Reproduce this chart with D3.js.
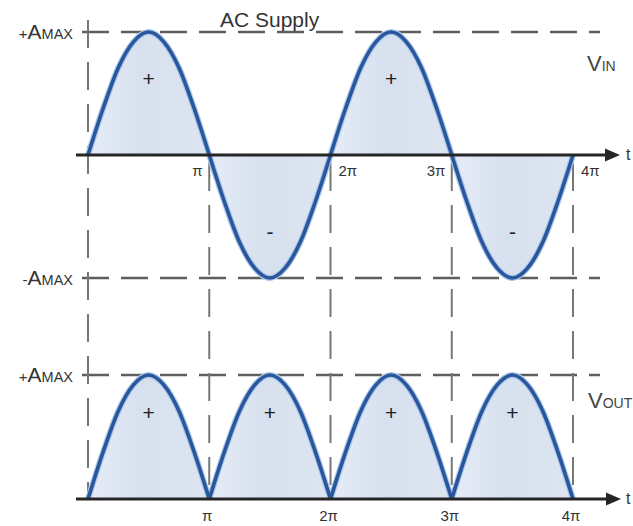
<!DOCTYPE html>
<html>
<head>
<meta charset="utf-8">
<script src="https://cdn.jsdelivr.net/npm/d3@7"></script>
<style>
  html, body { margin: 0; padding: 0; background: #fff; }
  svg { display: block; font-family: "Liberation Sans", Arial, sans-serif; }
</style>
</head>
<body>
<svg id="chart" width="633" height="526"></svg>
<script>
// Phase of the waveform, in multiples of π
const phase = [0, 0.125, 0.25, 0.375, 0.5, 0.625, 0.75, 0.875,
               1, 1.125, 1.25, 1.375, 1.5, 1.625, 1.75, 1.875,
               2, 2.125, 2.25, 2.375, 2.5, 2.625, 2.75, 2.875,
               3, 3.125, 3.25, 3.375, 3.5, 3.625, 3.75, 3.875, 4];

// AC supply voltage (input), normalised to A_MAX
const vIn = [0, 0.38, 0.71, 0.92, 1, 0.92, 0.71, 0.38,
             0, -0.38, -0.71, -0.92, -1, -0.92, -0.71, -0.38,
             0, 0.38, 0.71, 0.92, 1, 0.92, 0.71, 0.38,
             0, -0.38, -0.71, -0.92, -1, -0.92, -0.71, -0.38, 0];

// Full-wave rectified output, normalised to A_MAX
const vOut = [0, 0.38, 0.71, 0.92, 1, 0.92, 0.71, 0.38,
              0, 0.38, 0.71, 0.92, 1, 0.92, 0.71, 0.38,
              0, 0.38, 0.71, 0.92, 1, 0.92, 0.71, 0.38,
              0, 0.38, 0.71, 0.92, 1, 0.92, 0.71, 0.38, 0];

const tickValues = [1, 2, 3, 4];
const tickLabels = ["π", "2π", "3π", "4π"];

// Polarity marks placed in each half-cycle
const inSigns = [{t: 0.5, v: 0.62, s: "+"}, {t: 1.5, v: -0.63, s: "-"},
                 {t: 2.5, v: 0.62, s: "+"}, {t: 3.5, v: -0.63, s: "-"}];
const outSigns = [{t: 0.5, v: 0.69, s: "+"}, {t: 1.5, v: 0.69, s: "+"},
                  {t: 2.5, v: 0.69, s: "+"}, {t: 3.5, v: 0.69, s: "+"}];

const svg = d3.select("#chart");

const x = d3.scaleLinear().domain([0, 4]).range([88, 573]);
const yIn = d3.scaleLinear().domain([-1, 1]).range([278, 32]);
const yOut = d3.scaleLinear().domain([0, 1]).range([499, 375]);

const dashCol = "#5e5e5e";
const axisCol = "#262626";
const waveCol = "#2a569c";

// Lobe fill gradient
const defs = svg.append("defs");
const grad = defs.append("linearGradient").attr("id", "lobeFill")
  .attr("x1", "0").attr("x2", "1").attr("y1", "0").attr("y2", "0");
grad.append("stop").attr("offset", "0%").attr("stop-color", "#e6edf8");
grad.append("stop").attr("offset", "45%").attr("stop-color", "#d7e0ee");
grad.append("stop").attr("offset", "100%").attr("stop-color", "#dde5f1");

// Dashed guides
const guides = svg.append("g").attr("fill", "none");
// horizontal amplitude levels
[yIn(1), yIn(-1), yOut(1)].forEach(yy => {
  guides.append("line")
    .attr("x1", x(0) - 6).attr("x2", 600)
    .attr("y1", yy).attr("y2", yy)
    .attr("stroke", dashCol).attr("stroke-width", 2.5)
    .attr("stroke-dasharray", "27,12");
});
// vertical guides at each multiple of π
guides.append("line")
  .attr("x1", x(0)).attr("x2", x(0))
  .attr("y1", 20).attr("y2", yOut(0) - 6)
  .attr("stroke", "#777").attr("stroke-width", 2)
  .attr("stroke-dasharray", "28,14");
tickValues.forEach(t => {
  guides.append("line")
    .attr("x1", x(t)).attr("x2", x(t))
    .attr("y1", yIn(0) + 8).attr("y2", yOut(0) - 6)
    .attr("stroke", "#777").attr("stroke-width", 2)
    .attr("stroke-dasharray", "28,14");
});

// Split a series into half-cycle lobes
function lobes(values) {
  const out = [];
  for (let k = 0; k < 4; k++) {
    const seg = [];
    for (let i = k * 8; i <= k * 8 + 8; i++) seg.push({t: phase[i], v: values[i]});
    out.push(seg);
  }
  return out;
}

function drawWave(values, y) {
  const g = svg.append("g");
  const area = d3.area().x(d => x(d.t)).y0(y(0)).y1(d => y(d.v)).curve(d3.curveMonotoneX);
  const line = d3.line().x(d => x(d.t)).y(d => y(d.v)).curve(d3.curveMonotoneX);
  const segs = lobes(values);
  g.selectAll("path.fill").data(segs).join("path")
    .attr("class", "fill").attr("d", area).attr("fill", "url(#lobeFill)");
  g.selectAll("path.halo").data(segs).join("path")
    .attr("class", "halo").attr("d", line).attr("fill", "none")
    .attr("stroke", "#a8c6ea").attr("stroke-width", 6).attr("stroke-linejoin", "round");
  g.selectAll("path.wave").data(segs).join("path")
    .attr("class", "wave").attr("d", line).attr("fill", "none")
    .attr("stroke", waveCol).attr("stroke-width", 3.6).attr("stroke-linejoin", "round");
}

drawWave(vIn, yIn);
drawWave(vOut, yOut);

// Time axes with arrowheads
function timeAxis(yy, tipX) {
  const g = svg.append("g");
  g.append("line").attr("x1", 76).attr("x2", tipX - 12)
    .attr("y1", yy).attr("y2", yy)
    .attr("stroke", axisCol).attr("stroke-width", 3);
  g.append("path")
    .attr("d", `M${tipX},${yy} L${tipX - 15},${yy - 6.5} L${tipX - 15},${yy + 6.5} Z`)
    .attr("fill", axisCol);
  g.append("text").attr("x", 626).attr("y", yy + 5)
    .attr("font-size", 16).attr("fill", "#333").text("t");
}
timeAxis(yIn(0), 620);
timeAxis(yOut(0), 621);

// Tick labels: the input axis labels sit beside the crossing
const inOffsets = [-17, 8, -25, 8];
svg.append("g").selectAll("text").data(tickValues).join("text")
  .attr("x", (d, i) => x(d) + inOffsets[i])
  .attr("y", yIn(0) + 21)
  .attr("font-size", 15).attr("fill", "#333")
  .text((d, i) => tickLabels[i]);
svg.append("g").selectAll("text").data(tickValues).join("text")
  .attr("x", d => x(d) - 2)
  .attr("y", yOut(0) + 22)
  .attr("text-anchor", "middle")
  .attr("font-size", 15).attr("fill", "#333")
  .text((d, i) => tickLabels[i]);

// Polarity signs
svg.append("g").selectAll("text").data(inSigns).join("text")
  .attr("x", d => x(d.t)).attr("y", d => yIn(d.v) + 7)
  .attr("text-anchor", "middle").attr("font-size", 21).attr("fill", "#1e1e1e")
  .text(d => d.s);
svg.append("g").selectAll("text").data(outSigns).join("text")
  .attr("x", d => x(d.t)).attr("y", d => yOut(d.v) + 7)
  .attr("text-anchor", "middle").attr("font-size", 21).attr("fill", "#1e1e1e")
  .text(d => d.s);

// Amplitude labels
function ampLabel(sign, yy) {
  const t = svg.append("text").attr("x", 73).attr("y", yy + 7)
    .attr("text-anchor", "end").attr("fill", "#333");
  t.append("tspan").attr("font-size", 15).text(sign);
  t.append("tspan").attr("font-size", 21).text("A");
  t.append("tspan").attr("font-size", 14.5).text("MAX");
}
ampLabel("+", yIn(1));
ampLabel("-", yIn(-1));
ampLabel("+", yOut(1));

// Signal names
function sigLabel(main, sub, xx, yy) {
  const t = svg.append("text").attr("x", xx).attr("y", yy).attr("fill", "#444");
  t.append("tspan").attr("font-size", 22).text(main);
  t.append("tspan").attr("font-size", 14).text(sub);
}
sigLabel("V", "IN", 587, 71);
sigLabel("V", "OUT", 588, 408);

svg.append("text").attr("x", 220).attr("y", 27)
  .attr("font-size", 21).attr("fill", "#333").text("AC Supply");
</script>
</body>
</html>
